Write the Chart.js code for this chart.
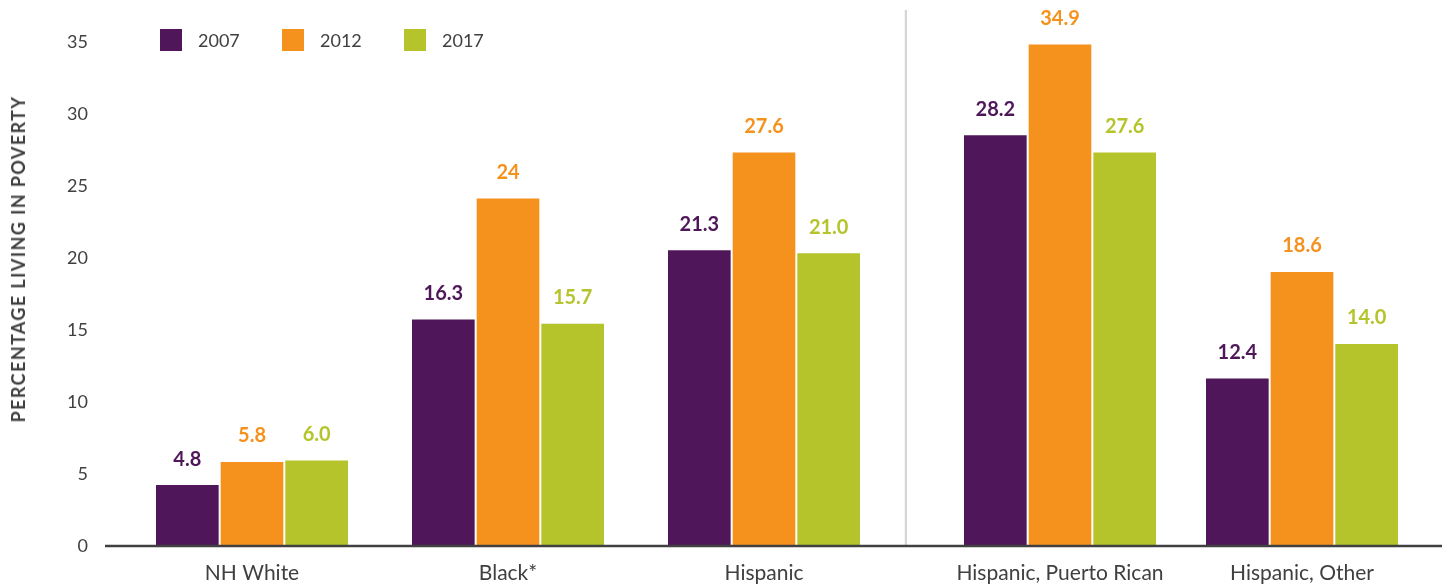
<!DOCTYPE html>
<html>
<head>
<meta charset="utf-8">
<script src="https://cdn.jsdelivr.net/npm/chart.js@4.4.0/dist/chart.umd.min.js"></script>
<style>
  body { margin: 0; background: #fff; font-family: Lato, "Open Sans", sans-serif; }
  #wrap { position: relative; width: 1448px; height: 588px; overflow: hidden; }
  canvas { position: absolute; top: 0; }
  #ytitle {
    position: absolute; left: 17.5px; top: 259px;
    transform: translate(-50%, -50%) rotate(-90deg);
    white-space: nowrap; font-weight: 700; font-size: 18px; color: #404040;
    letter-spacing: 1.4px;
  }
  #legend { position: absolute; left: 160px; top: 29px; display: flex; }
  .item { width: 122px; display: flex; align-items: center; height: 22px; }
  .box { width: 22px; height: 22px; margin-right: 16px; }
  .item span { font-size: 18px; color: #404040; }
</style>
</head>
<body>
<div id="wrap">
  <canvas id="leftChart" width="907" height="588" style="left:0"></canvas>
  <canvas id="rightChart" width="541" height="588" style="left:907px"></canvas>
  <div id="ytitle">PERCENTAGE LIVING IN POVERTY</div>
  <div id="legend"></div>
</div>
<script>
// categories (left group / right group)
const leftCategories = ['NH White', 'Black*', 'Hispanic'];
const rightCategories = ['Hispanic, Puerto Rican', 'Hispanic, Other'];
const years = ['2007', '2012', '2017'];
const colors = ['#4f1759', '#f5921e', '#b5c42b'];

// bar heights as drawn in the picture
const bars2007 = [4.3, 15.8, 20.6, 28.6, 11.7];
const bars2012 = [5.9, 24.2, 27.4, 34.9, 19.1];
const bars2017 = [6.0, 15.5, 20.4, 27.4, 14.1];

// printed value labels
const labels2007 = ['4.8', '16.3', '21.3', '28.2', '12.4'];
const labels2012 = ['5.8', '24', '27.6', '34.9', '18.6'];
const labels2017 = ['6.0', '15.7', '21.0', '27.6', '14.0'];

const yTicks = [0, 5, 10, 15, 20, 25, 30, 35];

const allBars = [bars2007, bars2012, bars2017];
const allLabels = [labels2007, labels2012, labels2017];
const textColor = '#404040';
const font = 'Lato, "Open Sans", sans-serif';

// legend (html)
let legend = document.getElementById('legend');
years.forEach((y, i) => {
    let item = document.createElement('div');
    item.className = 'item';
    item.innerHTML = '<div class="box" style="background:' + colors[i] + '"></div><span>' + y + '</span>';
    legend.appendChild(item);
});

// draws value labels above each bar
const valueLabels = {
    id: 'valueLabels',
    afterDatasetsDraw(chart) {
        const ctx = chart.ctx;
        ctx.save();
        ctx.font = 'bold 20px ' + font;
        ctx.textAlign = 'center';
        ctx.textBaseline = 'middle';
        chart.data.datasets.forEach((ds, i) => {
            chart.getDatasetMeta(i).data.forEach((bar, j) => {
                ctx.fillStyle = ds.backgroundColor;
                ctx.fillText(ds.valueLabels[j], bar.x, bar.y - 25);
            });
        });
        ctx.restore();
    }
};

// baseline and the divider line
function lines(x0, x1, dividerX) {
    return {
        id: 'lines',
        afterDraw(chart) {
            const ctx = chart.ctx;
            const y0 = chart.scales.y.getPixelForValue(0);
            ctx.save();
            if (dividerX != null) {
                ctx.strokeStyle = '#d6d6d6';
                ctx.lineWidth = 2.5;
                ctx.beginPath();
                ctx.moveTo(dividerX, 10);
                ctx.lineTo(dividerX, y0);
                ctx.stroke();
            }
            ctx.strokeStyle = textColor;
            ctx.lineWidth = 2.5;
            ctx.beginPath();
            ctx.moveTo(x0, y0);
            ctx.lineTo(x1, y0);
            ctx.stroke();
            ctx.restore();
        }
    };
}

function makeDatasets(from, to, catPct) {
    return years.map((y, i) => ({
        label: y,
        data: allBars[i].slice(from, to),
        valueLabels: allLabels[i].slice(from, to),
        backgroundColor: colors[i],
        borderColor: '#ffffff',
        borderWidth: 1,
        borderSkipped: 'bottom',
        barPercentage: 1,
        categoryPercentage: catPct
    }));
}

function baseOptions(showY, padding) {
    let y = {
        display: showY,
        min: 0,
        max: 35,
        afterBuildTicks: (scale) => { scale.ticks = yTicks.map(v => ({ value: v })); },
        grid: { display: false, drawTicks: false },
        border: { display: false },
        ticks: { color: textColor, font: { family: font, size: 18 }, padding: 36 }
    };
    if (showY) {
        y.afterFit = (scale) => {
            scale.width = 124;
            scale.paddingTop = 0;
            scale.paddingBottom = 0;
        };
    }
    return {
        responsive: false,
        animation: false,
        layout: { padding: padding },
        plugins: { legend: { display: false }, tooltip: { enabled: false } },
        scales: {
            x: {
                afterFit: (scale) => { scale.height = 42; },
                grid: { display: false, drawTicks: false },
                border: { display: false },
                ticks: { color: textColor, font: { family: font, size: 21 }, padding: 15, maxRotation: 0, autoSkip: false }
            },
            y: y
        }
    };
}

new Chart(document.getElementById('leftChart'), {
    type: 'bar',
    data: { labels: leftCategories, datasets: makeDatasets(0, 3, 194 / 256) },
    options: baseOptions(true, { top: 42, bottom: 0, left: 0, right: 15 }),
    plugins: [valueLabels, lines(105, 907, 906)]
});

new Chart(document.getElementById('rightChart'), {
    type: 'bar',
    data: { labels: rightCategories, datasets: makeDatasets(3, 5, 194 / 242) },
    options: baseOptions(false, { top: 42, bottom: 0, left: 32, right: 25 }),
    plugins: [valueLabels, lines(0, 535, null)]
});
</script>
</body>
</html>
